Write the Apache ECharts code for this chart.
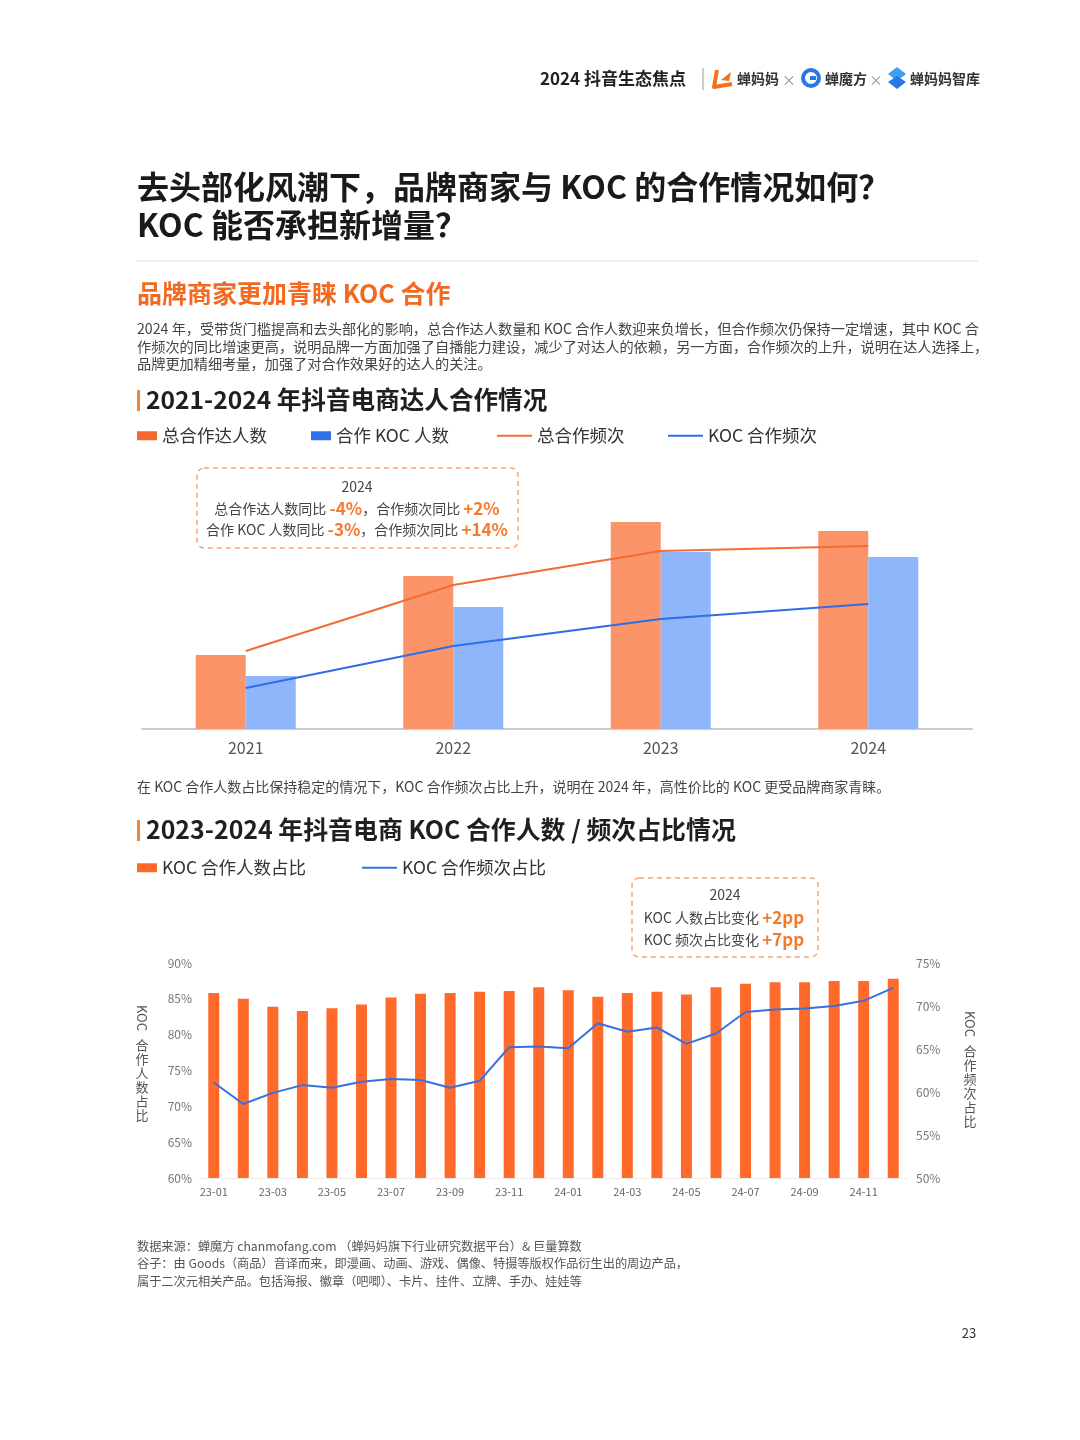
<!DOCTYPE html>
<html lang="zh">
<head>
  <meta charset="UTF-8" />
  <title>2021-2024 年抖音电商达人合作情况</title>
  <script src="https://cdn.jsdelivr.net/npm/echarts@6/dist/echarts.min.js"></script>
  <style>
    html, body { margin: 0; padding: 0; background: #ffffff; }
    #main { width: 1080px; height: 1440px; }
  </style>
</head>
<body>
  <div id="main"></div>
  <script>
    const FONT = '"Noto Sans CJK SC", "Noto Sans", sans-serif';

    // 图一：2021-2024 年达人合作情况（相对指数，读图估算）
    const years = ['2021', '2022', '2023', '2024'];
    const totalCreators = [74, 153, 207, 198];
    const kocCreators = [53, 122, 177, 172];
    const totalFreq = [78, 144, 178, 183];
    const kocFreq = [41, 83, 110, 125];

    // 图二：KOC 合作人数 / 频次占比（%）
    const months = [
      '23-01', '23-02', '23-03', '23-04', '23-05', '23-06',
      '23-07', '23-08', '23-09', '23-10', '23-11', '23-12',
      '24-01', '24-02', '24-03', '24-04', '24-05', '24-06',
      '24-07', '24-08', '24-09', '24-10', '24-11', '24-12'
    ];
    const kocCountShare = [
      85.8, 85.0, 83.9, 83.3, 83.7, 84.2, 85.2, 85.7, 85.8, 86.0, 86.1, 86.6,
      86.2, 85.3, 85.8, 86.0, 85.6, 86.6, 87.1, 87.3, 87.3, 87.5, 87.5, 87.8
    ];
    const kocFreqShare = [
      61.1, 58.6, 59.9, 60.8, 60.5, 61.2, 61.5, 61.4, 60.5, 61.3, 65.2, 65.3,
      65.1, 68.0, 67.0, 67.5, 65.6, 66.8, 69.3, 69.6, 69.7, 70.0, 70.6, 72.1
    ];

    const ORANGE = '#f26a22';
    const txt = (x, y, text, size, color, extra) => ({
      type: 'text', x: x, y: y, silent: true,
      style: Object.assign({
        text: text, fill: color, fontSize: size, fontFamily: FONT,
        textVerticalAlign: 'middle', textAlign: 'left'
      }, extra || {})
    });
    const richA = { fontSize: 14, fill: '#444', fontFamily: FONT };
    const richB = { fontSize: 17, fill: '#f47a2c', fontWeight: 'bold', fontFamily: FONT };
    const legendText = { fontSize: 17.5, color: '#333' };

    const chart = echarts.init(document.getElementById('main'));

    chart.setOption({
      backgroundColor: '#ffffff',
      animation: false,
      textStyle: { fontFamily: FONT },
      legend: [
        { left: 137, top: 427, padding: 0, itemWidth: 20, itemHeight: 9, textStyle: legendText,
          data: [{ name: '总合作达人数', icon: 'rect', itemStyle: { color: '#f26a2e' } }] },
        { left: 311, top: 427, padding: 0, itemWidth: 20, itemHeight: 9, textStyle: legendText,
          data: [{ name: '合作 KOC 人数', icon: 'rect', itemStyle: { color: '#2f6fe8' } }] },
        { left: 497, top: 427, padding: 0, itemWidth: 35, itemHeight: 2, textStyle: legendText,
          data: [{ name: '总合作频次', icon: 'rect' }] },
        { left: 668, top: 427, padding: 0, itemWidth: 35, itemHeight: 2, textStyle: legendText,
          data: [{ name: 'KOC 合作频次', icon: 'rect' }] },
        { left: 137, top: 859, padding: 0, itemWidth: 20, itemHeight: 9, textStyle: legendText,
          data: [{ name: 'KOC 合作人数占比', icon: 'rect' }] },
        { left: 362, top: 859, padding: 0, itemWidth: 35, itemHeight: 2, textStyle: legendText,
          data: [{ name: 'KOC 合作频次占比', icon: 'rect' }] }
      ],
      grid: [
        { left: 142, top: 469, width: 830, height: 260 },
        { left: 199, top: 963, width: 709, height: 215 }
      ],
      xAxis: [
        {
          type: 'category', gridIndex: 0, data: years,
          axisLine: { lineStyle: { color: '#cccccc', width: 2 } },
          axisTick: { show: false },
          axisLabel: { fontSize: 16, color: '#555', margin: 11 }
        },
        {
          type: 'category', gridIndex: 1, data: months,
          axisLine: { lineStyle: { color: '#ececec' } },
          axisTick: { show: false },
          axisLabel: { fontSize: 11, color: '#666', margin: 8, interval: 1 }
        }
      ],
      yAxis: [
        { type: 'value', gridIndex: 0, min: 0, max: 260, show: false },
        {
          type: 'value', gridIndex: 1, min: 60, max: 90, interval: 5,
          axisLine: { show: false }, axisTick: { show: false }, splitLine: { show: false },
          axisLabel: { formatter: '{value}%', fontSize: 12, color: '#777', margin: 7 }
        },
        {
          type: 'value', gridIndex: 1, position: 'right', min: 50, max: 75, interval: 5,
          axisLine: { show: false }, axisTick: { show: false }, splitLine: { show: false },
          axisLabel: { formatter: '{value}%', fontSize: 12, color: '#777', margin: 8 }
        }
      ],
      series: [
        { name: '总合作达人数', type: 'bar', xAxisIndex: 0, yAxisIndex: 0, data: totalCreators, barWidth: 50, barGap: '0%', itemStyle: { color: '#fb9468' } },
        { name: '合作 KOC 人数', type: 'bar', xAxisIndex: 0, yAxisIndex: 0, data: kocCreators, barWidth: 50, barGap: '0%', itemStyle: { color: '#8fb5fb' } },
        { name: '总合作频次', type: 'line', xAxisIndex: 0, yAxisIndex: 0, data: totalFreq, symbol: 'none', lineStyle: { color: '#f36b35', width: 2 }, itemStyle: { color: '#f36b35' } },
        { name: 'KOC 合作频次', type: 'line', xAxisIndex: 0, yAxisIndex: 0, data: kocFreq, symbol: 'none', lineStyle: { color: '#2f6de6', width: 2 }, itemStyle: { color: '#2f6de6' } },
        { name: 'KOC 合作人数占比', type: 'bar', xAxisIndex: 1, yAxisIndex: 1, data: kocCountShare, barWidth: 11, itemStyle: { color: '#ff6a2b' } },
        { name: 'KOC 合作频次占比', type: 'line', xAxisIndex: 1, yAxisIndex: 2, data: kocFreqShare, symbol: 'none', lineStyle: { color: '#3a6fe0', width: 2 }, itemStyle: { color: '#3a6fe0' } }
      ],
      graphic: [
        // 页眉
        txt(540, 79, '2024 抖音生态焦点', 17, '#222', { fontWeight: 'bold' }),
        { type: 'line', silent: true, shape: { x1: 703, y1: 68, x2: 703, y2: 90 }, style: { stroke: '#999', lineWidth: 1 } },
        { type: 'polyline', silent: true, shape: { points: [[717, 70], [714, 87], [732, 84]] }, style: { stroke: '#f2711c', lineWidth: 4, fill: null, lineJoin: 'round' } },
        { type: 'polygon', silent: true, shape: { points: [[721, 80], [731, 72], [729, 81]] }, style: { fill: '#f2711c' } },
        txt(737, 79, '蝉妈妈', 14, '#333', { fontWeight: 'bold' }),
        txt(789, 80, '×', 14, '#999', { textAlign: 'center' }),
        { type: 'circle', silent: true, shape: { cx: 811, cy: 78, r: 8 }, style: { fill: null, stroke: '#2a78e4', lineWidth: 4 } },
        { type: 'rect', silent: true, shape: { x: 810, y: 76, width: 6, height: 4 }, style: { fill: '#2a78e4' } },
        txt(825, 79, '蝉魔方', 14, '#333', { fontWeight: 'bold' }),
        txt(876, 80, '×', 14, '#999', { textAlign: 'center' }),
        { type: 'polygon', silent: true, shape: { points: [[897, 67], [906, 74], [897, 81], [888, 74]] }, style: { fill: '#3aa0f0' } },
        { type: 'polygon', silent: true, shape: { points: [[897, 76], [906, 82], [897, 89], [888, 82]] }, style: { fill: '#2a78e4' } },
        txt(910, 79, '蝉妈妈智库', 14, '#333', { fontWeight: 'bold' }),

        // 标题
        txt(137, 187, '去头部化风潮下，品牌商家与 KOC 的合作情况如何？', 32, '#1a1a1a', { fontWeight: 'bold' }),
        txt(137, 225, 'KOC 能否承担新增量？', 32, '#1a1a1a', { fontWeight: 'bold' }),
        { type: 'line', silent: true, shape: { x1: 137, y1: 261, x2: 978, y2: 261 }, style: { stroke: '#dddddd', lineWidth: 1 } },
        txt(137, 293, '品牌商家更加青睐 KOC 合作', 25, ORANGE, { fontWeight: 'bold' }),
        txt(137, 329, '2024 年，受带货门槛提高和去头部化的影响，总合作达人数量和 KOC 合作人数迎来负增长，但合作频次仍保持一定增速，其中 KOC 合', 14.2, '#444'),
        txt(137, 347, '作频次的同比增速更高，说明品牌一方面加强了自播能力建设，减少了对达人的依赖，另一方面，合作频次的上升，说明在达人选择上，', 14.2, '#444'),
        txt(137, 364, '品牌更加精细考量，加强了对合作效果好的达人的关注。', 14.2, '#444'),

        // 图一标题
        { type: 'rect', silent: true, shape: { x: 137, y: 390, width: 3, height: 21 }, style: { fill: '#f5862e' } },
        txt(146, 400, '2021-2024 年抖音电商达人合作情况', 24.6, '#1f1f1f', { fontWeight: 'bold' }),

        // 图一注释框
        { type: 'rect', silent: true, shape: { x: 197, y: 468, width: 321, height: 80, r: 7 }, style: { fill: null, stroke: '#f6a673', lineWidth: 1.5, lineDash: [5, 4] } },
        txt(357, 487, '2024', 14, '#444', { textAlign: 'center' }),
        txt(357, 509, '{a|总合作达人数同比 }{b|-4%}{a|，合作频次同比 }{b|+2%}', 14, '#444', { textAlign: 'center', rich: { a: richA, b: richB } }),
        txt(357, 530, '{a|合作 KOC 人数同比 }{b|-3%}{a|，合作频次同比 }{b|+14%}', 14, '#444', { textAlign: 'center', rich: { a: richA, b: richB } }),

        txt(137, 787, '在 KOC 合作人数占比保持稳定的情况下，KOC 合作频次占比上升，说明在 2024 年，高性价比的 KOC 更受品牌商家青睐。', 14, '#444'),

        // 图二标题
        { type: 'rect', silent: true, shape: { x: 137, y: 820, width: 3, height: 21 }, style: { fill: '#f5862e' } },
        txt(146, 830, '2023-2024 年抖音电商 KOC 合作人数 / 频次占比情况', 24.9, '#1f1f1f', { fontWeight: 'bold' }),

        // 图二注释框
        { type: 'rect', silent: true, shape: { x: 632, y: 878, width: 186, height: 79, r: 7 }, style: { fill: null, stroke: '#f6a673', lineWidth: 1.5, lineDash: [5, 4] } },
        txt(725, 895, '2024', 14, '#444', { textAlign: 'center' }),
        txt(724, 918, '{a|KOC 人数占比变化 }{b|+2pp}', 14, '#444', { textAlign: 'center', rich: { a: richA, b: richB } }),
        txt(724, 940, '{a|KOC 频次占比变化 }{b|+7pp}', 14, '#444', { textAlign: 'center', rich: { a: richA, b: richB } }),

        // 纵轴名称（竖排）
        txt(142, 1018, 'KOC', 13, '#555', { textAlign: 'center' }),
        txt(142, 1080, '合\n作\n人\n数\n占\n比', 13, '#555', { textAlign: 'center', lineHeight: 14 }),
        txt(970, 1024, 'KOC', 13, '#555', { textAlign: 'center' }),
        txt(970, 1086, '合\n作\n频\n次\n占\n比', 13, '#555', { textAlign: 'center', lineHeight: 14 }),

        // 脚注
        txt(137, 1246, '数据来源：蝉魔方 chanmofang.com （蝉妈妈旗下行业研究数据平台）& 巨量算数', 12.2, '#555'),
        txt(137, 1263, '谷子：由 Goods（商品）音译而来，即漫画、动画、游戏、偶像、特摄等版权作品衍生出的周边产品，', 12.2, '#555'),
        txt(137, 1281, '属于二次元相关产品。包括海报、徽章（吧唧）、卡片、挂件、立牌、手办、娃娃等', 12.2, '#555'),
        txt(969, 1333, '23', 13, '#333', { textAlign: 'center' })
      ]
    });

    // “KOC” 竖排时旋转 90°
    const opt = chart.getOption();
    opt.graphic[0].elements.forEach((el) => {
      if (el.style && el.style.text === 'KOC') {
        chart.setOption({ graphic: [{ id: el.id, rotation: -Math.PI / 2 }] });
      }
    });
  </script>
</body>
</html>
